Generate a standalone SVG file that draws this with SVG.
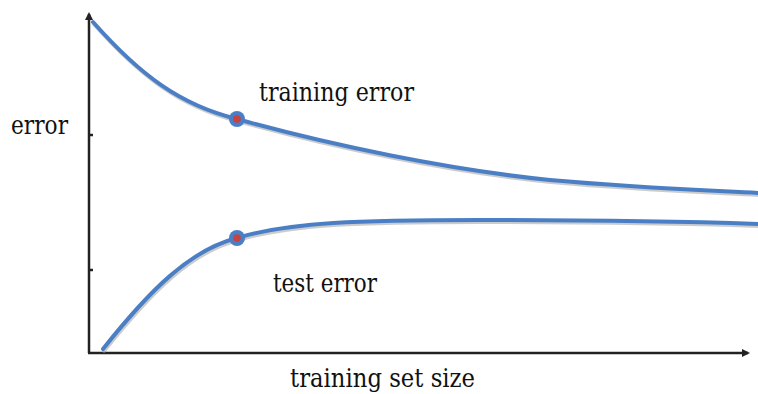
<svg xmlns="http://www.w3.org/2000/svg" width="758" height="394" viewBox="0 0 758 394">
<defs>
<style>
.lbl{font-family:'DejaVu Serif','Liberation Serif',serif;font-size:26px;fill:#111}
.axis{stroke:#222;stroke-width:2.5;fill:none}
.curve{stroke:#4a7fc6;stroke-width:4;fill:none;stroke-linecap:round}
.shadow{stroke:#9a9a9a;stroke-width:4;fill:none;opacity:0.5;stroke-linecap:round}
.dot{fill:#4a7fc6}
.dotc{fill:#c8433f}
</style>
<marker id="ah" markerWidth="8" markerHeight="8" refX="6" refY="4" orient="auto" markerUnits="userSpaceOnUse">
<path d="M0,0 L8,4 L0,8 Z" fill="#222"/>
</marker>
</defs>
<rect width="758" height="394" fill="#fff"/>
<g id="axes">
<line class="axis" x1="89" y1="353" x2="89" y2="14" marker-end="url(#ah)"/>
<line class="axis" x1="88" y1="353" x2="748" y2="353" marker-end="url(#ah)"/>
<line class="axis" x1="89" y1="135" x2="93" y2="135" stroke-width="1.5"/>
<line class="axis" x1="89" y1="270" x2="93" y2="270" stroke-width="1.5"/>
</g>
<g id="connectors">
<path class="shadow" transform="translate(1,2)" d="M93,22 C140,75 180,105 237,119 C330,145 450,170 550,180 C640,188 700,190 758,193"/>
<path class="curve" d="M93,22 C140,75 180,105 237,119 C330,145 450,170 550,180 C640,188 700,190 758,193"/>
<path class="shadow" transform="translate(1,2)" d="M103,349 C150,290 190,250 237,238 C290,222 360,220 480,220 C600,220 700,222 758,224"/>
<path class="curve" d="M103,349 C150,290 190,250 237,238 C290,222 360,220 480,220 C600,220 700,222 758,224"/>
</g>
<g id="training-point">
<circle class="dot" cx="237" cy="119" r="8"/>
<circle class="dotc" cx="237" cy="119" r="3.8"/>
</g>
<g id="test-point">
<circle class="dot" cx="237" cy="238" r="8"/>
<circle class="dotc" cx="237" cy="238" r="3.8"/>
</g>
<g id="labels">
<text class="lbl" x="259" y="101" textLength="155" lengthAdjust="spacingAndGlyphs">training error</text>
<text class="lbl" x="11" y="134" textLength="57" lengthAdjust="spacingAndGlyphs">error</text>
<text class="lbl" x="273" y="292" textLength="104" lengthAdjust="spacingAndGlyphs">test error</text>
<text class="lbl" x="290" y="387" textLength="185" lengthAdjust="spacingAndGlyphs">training set size</text>
</g>
</svg>
